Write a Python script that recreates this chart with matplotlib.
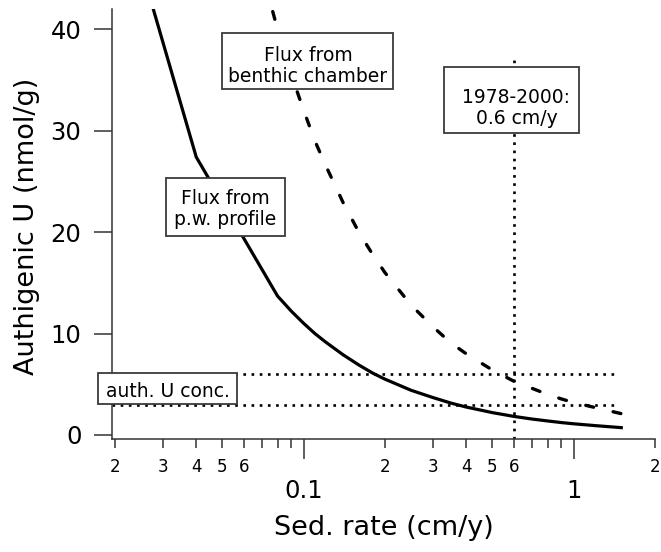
import matplotlib
matplotlib.use('Agg')
import matplotlib.pyplot as plt
from matplotlib.patches import Rectangle
from matplotlib.ticker import FixedLocator, FixedFormatter

plt.rcParams['font.family'] = ['DejaVu Sans']

# ---- data ----
rate_pw = [0.02, 0.04, 0.08, 0.09, 0.1, 0.11, 0.12, 0.14, 0.16, 0.18, 0.2,
           0.25, 0.3, 0.35, 0.4, 0.5, 0.6, 0.7, 0.8, 0.9, 1.0, 1.2, 1.5]
u_pw = [55, 27.4, 13.7, 12.2, 11.0, 10.0, 9.2, 7.9, 6.9, 6.1, 5.5,
        4.4, 3.7, 3.15, 2.75, 2.2, 1.83, 1.57, 1.38, 1.22, 1.1, 0.92, 0.72]

rate_bc = [0.06, 0.07, 0.08, 0.09, 0.1, 0.11, 0.12, 0.14, 0.16, 0.18, 0.2,
           0.25, 0.3, 0.35, 0.4, 0.5, 0.6, 0.7, 0.8, 0.9, 1.0, 1.2, 1.5]
u_bc = [53, 45.7, 40, 35.5, 32, 29, 26.7, 22.9, 20, 17.8, 16,
        12.8, 10.7, 9.1, 8.0, 6.4, 5.3, 4.6, 4.0, 3.55, 3.2, 2.7, 2.1]

auth_u_levels = [6, 3]
auth_u_xrange = [0.0195, 1.45]
rate_1978_2000 = 0.6
rate_line_yrange = [-0.4, 37]

y_ticks = [0, 10, 20, 30, 40]
major_ticks = [0.1, 1]
major_labels = ['0.1', '1']
minor_ticks = [0.02, 0.03, 0.04, 0.05, 0.06, 0.07, 0.08, 0.09,
               0.2, 0.3, 0.4, 0.5, 0.6, 0.7, 0.8, 0.9, 2]
minor_labels = ['2', '3', '4', '5', '6', '', '', '',
                '2', '3', '4', '5', '6', '', '', '', '2']

W, H = 661, 552
fig = plt.figure(figsize=(W / 100, H / 100), dpi=100)
ax = fig.add_axes([112 / W, 1 - 439 / H, 543 / W, 430 / H])

ax.plot(rate_pw, u_pw, color='black', lw=2.3, solid_joinstyle='miter')
ax.plot(rate_bc, u_bc, color='black', lw=2.4, linestyle=(4.5, (2.4, 6.0)),
        dash_capstyle='round')
for lvl in auth_u_levels:
    ax.plot(auth_u_xrange, [lvl, lvl], color='black', lw=1.9,
            linestyle=(0, (1, 2.1)))
ax.plot([rate_1978_2000, rate_1978_2000], rate_line_yrange, color='black',
        lw=1.9, linestyle=(0, (1, 2.1)))

ax.set_xscale('log')
ax.set_xlim(0.0195, 2.0)
ax.set_ylim(-0.4, 42)

for s in ['top', 'right']:
    ax.spines[s].set_visible(False)
for s in ['left', 'bottom']:
    ax.spines[s].set_color('#333333')
    ax.spines[s].set_linewidth(1.1)

ax.yaxis.set_major_locator(FixedLocator(y_ticks))
ax.set_yticklabels([str(v) for v in y_ticks])
ax.xaxis.set_major_locator(FixedLocator(major_ticks))
ax.xaxis.set_major_formatter(FixedFormatter(major_labels))
ax.xaxis.set_minor_locator(FixedLocator(minor_ticks))
ax.xaxis.set_minor_formatter(FixedFormatter(minor_labels))

ax.tick_params(axis='y', which='major', direction='out', length=13, width=1.1,
               color='#333333', pad=9, labelsize=17.5)
ax.tick_params(axis='y', which='minor', left=False)
ax.tick_params(axis='x', which='major', direction='out', length=14.5, width=1.1,
               color='#333333', pad=14.5, labelsize=17.5)
ax.tick_params(axis='x', which='minor', direction='out', length=6.5, width=1.1,
               color='#333333', pad=7, labelsize=12)

fig.text(384 / W, 1 - 528 / H, 'Sed. rate (cm/y)', ha='center', va='center',
         fontsize=19.5)
fig.text(27 / W, 1 - 226 / H, 'Authigenic U (nmol/g)', ha='center',
         va='center', rotation=90, fontsize=19.5)

# annotation boxes: (x0, y0, x1, y1) in pixels, text center x, last baseline y
boxes = [
    ((222, 33, 393, 89), 308, 82, 'Flux from\nbenthic chamber'),
    ((166, 178, 285, 236), 225, 225, 'Flux from\np.w. profile'),
    ((98, 373, 237, 404), 167.5, 397, 'auth. U conc.'),
    ((444, 67, 579, 133), 516.5, 124, '1978-2000:\n0.6 cm/y'),
]
for (x0, y0, x1, y1), tx, ty, label in boxes:
    rect = Rectangle((x0 / W, 1 - y1 / H), (x1 - x0) / W, (y1 - y0) / H,
                     transform=fig.transFigure, facecolor='white',
                     edgecolor='#3a3a3a', lw=1.3, zorder=5)
    fig.add_artist(rect)
    fig.text(tx / W, 1 - ty / H, label, ha='center', va='baseline',
             multialignment='center', fontsize=13.5, zorder=6,
             linespacing=1.15)

fig.savefig('out.png', dpi=100)
